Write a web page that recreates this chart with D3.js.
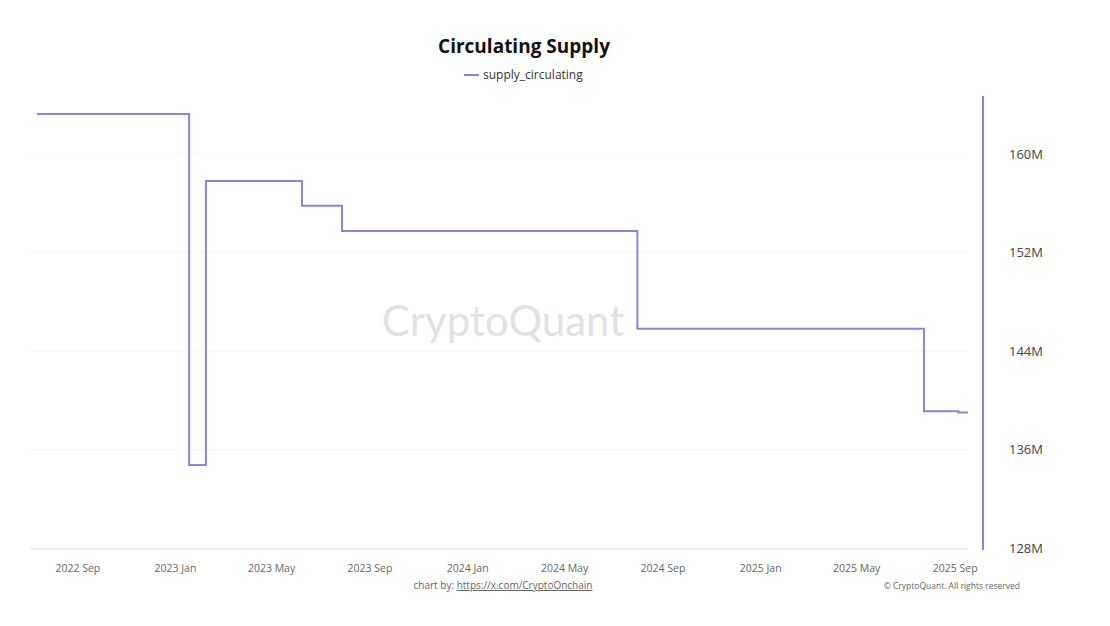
<!DOCTYPE html>
<html><head><meta charset="utf-8">
<script src="https://cdn.jsdelivr.net/npm/d3@7"></script>
<style>
body{margin:0;background:#fff;font-family:"Open Sans",sans-serif;}
</style></head><body>
<svg id="chart" width="1110" height="626"></svg>
<script>
// step points: date the level begins, value in millions
const dates = ["2022-07-12","2023-01-18","2023-02-08","2023-06-08","2023-07-28","2024-07-31","2025-07-24","2025-09-05","2025-09-17"];
const supply = [163.25,134.75,157.8,155.8,153.75,145.8,139.1,139.0,139.0];
const yTicks = [128,136,144,152,160];
const xTicks = ["2022-09-01","2023-01-01","2023-05-01","2023-09-01","2024-01-01","2024-05-01","2024-09-01","2025-01-01","2025-05-01","2025-09-01"];

const parse = d3.utcParse("%Y-%m-%d");
const data = dates.map((d, i) => ({ date: parse(d), v: supply[i] }));
const svg = d3.select("#chart");
const LINE = "#8b83e0";

const x = d3.scaleUtc().domain([parse("2022-07-12"), parse("2025-09-17")]).range([37, 968]);
const y = d3.scaleLinear().domain([128, 166.9]).range([548, 69]);

// grid
svg.append("g").selectAll("line").data(yTicks).join("line")
  .attr("x1", 30).attr("x2", 968).attr("y1", d => y(d)).attr("y2", d => y(d))
  .attr("stroke", "#f4f4f4");
svg.append("line").attr("x1", 30).attr("x2", 968).attr("y1", 549).attr("y2", 549).attr("stroke", "#e4e4e4");

// watermark
svg.append("text").attr("x", 503).attr("y", 336).attr("text-anchor", "middle")
  .attr("font-size", 42).attr("fill", "#e2e2e2").attr("font-family", "Lato, sans-serif")
  .text("CryptoQuant");

// right axis line
svg.append("line").attr("x1", 983).attr("x2", 983).attr("y1", 96).attr("y2", 550)
  .attr("stroke", LINE).attr("stroke-width", 2);

svg.append("g").selectAll("text").data(yTicks).join("text")
  .attr("x", 1009).attr("y", d => y(d) + 5).attr("font-size", 13).attr("fill", "#444")
  .text(d => d + "M");

svg.append("g").selectAll("text").data(xTicks).join("text")
  .attr("x", d => x(parse(d))).attr("y", 572).attr("text-anchor", "middle")
  .attr("font-size", 10.5).attr("fill", "#666")
  .text(d => d3.utcFormat("%Y %b")(parse(d)));

svg.append("path").datum(data)
  .attr("fill", "none").attr("stroke", LINE).attr("stroke-width", 2)
  .attr("d", d3.line().x(d => x(d.date)).y(d => y(d.v)).curve(d3.curveStepAfter));

// title & legend
svg.append("text").attr("x", 524).attr("y", 53).attr("text-anchor", "middle")
  .attr("font-size", 19).attr("font-weight", "bold").attr("fill", "#111").text("Circulating Supply");
svg.append("line").attr("x1", 464).attr("x2", 479).attr("y1", 75).attr("y2", 75).attr("stroke", LINE).attr("stroke-width", 2);
svg.append("text").attr("x", 483).attr("y", 79).attr("font-size", 12).attr("fill", "#333").text("supply_circulating");

// footer
const ft = svg.append("text").attr("x", 503).attr("y", 589).attr("text-anchor", "middle")
  .attr("font-size", 10).attr("fill", "#666");
ft.append("tspan").text("chart by: ");
ft.append("tspan").attr("text-decoration", "underline").text("https://x.com/CryptoOnchain");
svg.append("text").attr("x", 1020).attr("y", 589).attr("text-anchor", "end")
  .attr("font-size", 8.5).attr("fill", "#666").text("© CryptoQuant. All rights reserved");
</script>
</body></html>
